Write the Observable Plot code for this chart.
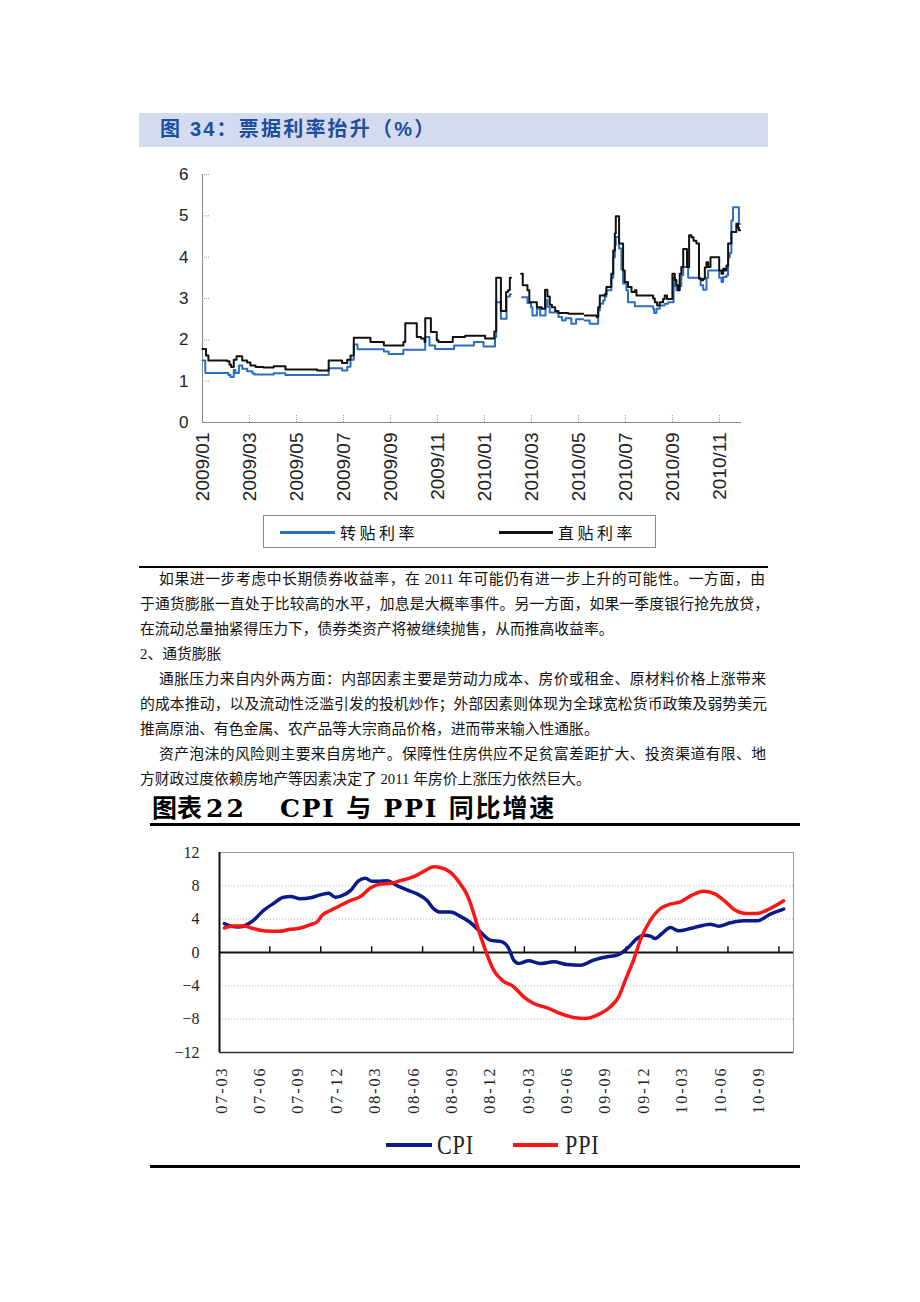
<!DOCTYPE html>
<html><head><meta charset="utf-8">
<script src="https://cdn.jsdelivr.net/npm/d3@7"></script>
<script src="https://cdn.jsdelivr.net/npm/@observablehq/plot@0.6"></script>
<style>
html,body{margin:0;padding:0;background:#fff;}
body{width:920px;height:1302px;position:relative;overflow:hidden;font-family:"Liberation Serif","Noto Sans CJK SC",serif;color:#111;}
.abs{position:absolute;}
#band1{left:139px;top:113px;width:629px;height:34px;background:#d4dbee;}
#title1{left:160px;top:113px;height:34px;line-height:34px;font:bold 20px "Liberation Sans","Noto Sans CJK SC",sans-serif;color:#1c4f9d;letter-spacing:2.2px;white-space:nowrap;}
#legend1{left:263px;top:515px;width:393px;height:33px;border:1px solid #8a8a8a;box-sizing:border-box;background:#fff;}
.lg1line{position:absolute;height:3px;top:15px;}
.lg1txt{position:absolute;top:4px;font:16px "Noto Sans CJK SC",sans-serif;letter-spacing:3.5px;white-space:nowrap;line-height:24px;}
.hr{position:absolute;background:#000;}
.p{position:absolute;font-size:14.8px;line-height:25px;height:25px;white-space:normal;font-family:"Liberation Serif","Noto Sans CJK SC",serif;color:#111;}
.full{text-align:justify;text-align-last:justify;}
.nw{white-space:nowrap;}
#title2a,#title2b{position:absolute;top:794px;height:30px;line-height:30px;font-weight:bold;font-size:25px;white-space:nowrap;font-family:"DejaVu Serif","Noto Sans CJK SC",serif;color:#000;}
#title2b{letter-spacing:1.8px;}
.lg2line{position:absolute;height:4px;top:1143px;}
.lg2txt{position:absolute;top:1130px;font-family:"Liberation Serif",serif;font-size:27px;line-height:30px;transform:scaleX(0.82);transform-origin:left center;letter-spacing:1px;color:#222;}
</style>
</head>
<body>
<div id="band1" class="abs"></div>
<div id="title1" class="abs">图 34：票据利率抬升（%）</div>
<div id="chart1" class="abs" style="left:130px;top:150px;"></div>
<div id="legend1" class="abs">
  <div class="lg1line" style="left:16px;width:55px;background:#2d6ebf;"></div>
  <div class="lg1txt" style="left:76px;">转贴利率</div>
  <div class="lg1line" style="left:235px;width:54px;background:#111;"></div>
  <div class="lg1txt" style="left:294px;">直贴利率</div>
</div>
<div class="hr" style="left:139px;top:566px;width:629px;height:2px;"></div>

<div class="p full" style="top:567px;left:159px;width:606px;">如果进一步考虑中长期债券收益率，在 2011 年可能仍有进一步上升的可能性。一方面，由</div>
<div class="p full" style="top:592px;left:140px;width:629px;">于通货膨胀一直处于比较高的水平，加息是大概率事件。另一方面，如果一季度银行抢先放贷，</div>
<div class="p nw" style="top:617px;left:140px;">在流动总量抽紧得压力下，债券类资产将被继续抛售，从而推高收益率。</div>
<div class="p nw" style="top:642px;left:140px;">2、通货膨胀</div>
<div class="p full" style="top:667px;left:159px;width:607px;">通胀压力来自内外两方面：内部因素主要是劳动力成本、房价或租金、原材料价格上涨带来</div>
<div class="p full" style="top:692px;left:140px;width:627px;">的成本推动，以及流动性泛滥引发的投机炒作；外部因素则体现为全球宽松货币政策及弱势美元</div>
<div class="p nw" style="top:717px;left:140px;">推高原油、有色金属、农产品等大宗商品价格，进而带来输入性通胀。</div>
<div class="p full" style="top:742px;left:159px;width:607px;">资产泡沫的风险则主要来自房地产。保障性住房供应不足贫富差距扩大、投资渠道有限、地</div>
<div class="p nw" style="top:767px;left:140px;">方财政过度依赖房地产等因素决定了 2011 年房价上涨压力依然巨大。</div>

<div id="title2a" style="left:152px;">图表<span style="margin-left:4px;letter-spacing:3px;">22</span></div>
<div id="title2b" style="left:280px;">CPI 与 PPI 同比增速</div>
<div class="hr" style="left:150px;top:823px;width:650px;height:3px;"></div>
<div id="chart2" class="abs" style="left:150px;top:840px;"></div>
<div class="lg2line" style="left:386px;width:46px;background:#0b1a8a;"></div>
<div class="lg2txt" style="left:437px;">CPI</div>
<div class="lg2line" style="left:513px;width:45px;background:#ff1414;"></div>
<div class="lg2txt" style="left:565px;">PPI</div>
<div class="hr" style="left:150px;top:1165px;width:650px;height:3px;"></div>

<script>
// ---------- Chart 1: 票据利率 (x = months since 2009/01) ----------
const xTicks1 = [0, 2, 4, 6, 8, 10, 12, 14, 16, 18, 20, 22];
const xLabels1 = ["2009/01","2009/03","2009/05","2009/07","2009/09","2009/11","2010/01","2010/03","2010/05","2010/07","2010/09","2010/11"];
const yTicks1 = [0, 1, 2, 3, 4, 5, 6];

// 转贴利率 [month offset, rate]
const zhuanTie = [[0,1.50],[0.12,1.20],[1.1,1.15],[1.19,1.10],[1.33,1.27],[1.4,1.20],[1.55,1.38],[1.69,1.30],[1.9,1.24],[2.12,1.19],[2.2,1.16],[3.03,1.19],[3.53,1.15],[5.37,1.31],[5.94,1.26],[6.16,1.35],[6.3,1.52],[6.44,1.89],[6.6,1.77],[7.72,1.72],[7.92,1.66],[8.55,1.76],[9.48,2.07],[9.66,1.86],[9.9,1.78],[10.71,1.86],[11.55,1.95],[11.96,1.84],[12.45,2.07],[12.5,2.91],[12.7,2.51],[12.94,3.05],[13.08,3.10],[13.13,3.10],[13.14,null],[13.6,3.03],[13.83,2.89],[13.98,2.79],[14.04,2.59],[14.23,2.75],[14.37,2.59],[14.6,2.97],[14.68,2.80],[14.78,2.66],[15.15,2.55],[15.3,2.47],[15.45,2.52],[15.7,2.39],[15.9,2.50],[16.2,2.50],[16.22,null],[16.27,2.47],[16.48,2.39],[16.84,2.71],[16.91,2.87],[17.05,2.95],[17.12,3.05],[17.19,3.20],[17.4,3.50],[17.48,4.00],[17.55,4.29],[17.59,4.49],[17.73,4.21],[17.83,3.70],[17.9,3.36],[18.04,3.20],[18.11,2.91],[18.4,2.81],[19.18,2.75],[19.22,2.65],[19.32,2.75],[19.46,2.83],[19.67,2.87],[19.82,2.91],[20.05,3.50],[20.1,3.30],[20.17,3.20],[20.28,3.30],[20.38,3.56],[20.46,3.76],[20.67,3.50],[21.2,3.32],[21.31,3.21],[21.45,3.50],[21.52,3.68],[21.99,3.50],[22.09,3.40],[22.16,3.52],[22.3,3.56],[22.37,4.00],[22.44,4.10],[22.51,4.89],[22.58,5.21],[22.83,4.80],[22.88,4.80]];

// 直贴利率 [month offset, rate]
const zhiTie = [[0,1.78],[0.15,1.62],[0.25,1.50],[1.05,1.48],[1.15,1.40],[1.22,1.34],[1.33,1.52],[1.45,1.60],[1.69,1.50],[1.9,1.45],[2.04,1.38],[2.26,1.34],[2.6,1.33],[3.03,1.36],[3.53,1.28],[4.88,1.26],[5.37,1.50],[5.94,1.44],[6.16,1.52],[6.3,1.62],[6.44,2.05],[7.15,1.95],[7.72,1.86],[8.55,1.95],[8.63,2.40],[9.12,2.07],[9.3,2.03],[9.45,1.95],[9.48,2.52],[9.72,2.19],[9.97,1.99],[10.04,1.95],[10.65,2.07],[11.18,2.10],[12.03,2.03],[12.42,2.20],[12.5,3.50],[12.7,2.70],[12.92,3.16],[13.0,3.20],[13.08,3.50],[13.13,3.50],[13.14,null],[13.56,3.60],[13.63,3.32],[13.83,3.20],[13.91,2.91],[14.23,2.79],[14.44,2.75],[14.58,3.21],[14.68,3.05],[14.78,2.85],[14.87,2.79],[15.01,2.70],[15.15,2.65],[15.57,2.63],[16.2,2.63],[16.22,null],[16.27,2.59],[16.77,2.55],[16.84,2.79],[16.91,3.07],[17.12,3.10],[17.19,3.28],[17.4,3.60],[17.48,4.16],[17.55,4.57],[17.59,4.99],[17.73,4.33],[17.9,3.68],[17.97,3.40],[18.11,3.28],[18.26,3.16],[18.4,3.20],[18.47,3.07],[19.18,3.00],[19.25,2.91],[19.35,2.83],[19.46,2.91],[19.6,2.99],[19.67,3.07],[19.77,2.99],[20.0,3.60],[20.1,3.45],[20.17,3.32],[20.24,3.20],[20.31,3.60],[20.38,3.76],[20.46,4.20],[20.62,3.76],[20.71,4.53],[20.81,4.48],[20.9,4.40],[21.02,4.33],[21.13,3.48],[21.23,3.44],[21.31,3.48],[21.38,3.75],[21.45,3.88],[21.52,3.76],[21.62,4.00],[21.99,3.68],[22.09,3.60],[22.16,3.72],[22.23,3.68],[22.3,3.80],[22.37,4.33],[22.51,4.61],[22.72,4.81],[22.79,4.72],[22.83,4.65],[22.88,4.65]];

const xDomain1 = [0, 22.94];

const c1 = Plot.plot({
  width: 631, height: 362,
  marginLeft: 72, marginRight: 20, marginTop: 24, marginBottom: 90,
  style: {fontFamily: "'Liberation Sans', Arial, sans-serif", background: "transparent", overflow: "visible", color: "#222"},
  x: {type: "linear", domain: xDomain1},
  y: {domain: [0, 6]},
  marks: [
    Plot.axisY({ticks: yTicks1, tickSize: 0, tickPadding: 14, fontSize: 17, label: null, fill: "#222", tickFormat: d => String(d)}),
    Plot.axisY({ticks: yTicks1.slice(1), tickSize: -8, tickFormat: () => "", label: null, stroke: "#999", strokeDasharray: "1,1"}),
    Plot.axisX({ticks: xTicks1, tickSize: -8, tickFormat: () => "", label: null, stroke: "#999", strokeDasharray: "1,1"}),
    Plot.axisX({ticks: xTicks1, tickSize: 0, tickPadding: 10, tickRotate: -90, fontSize: 19, label: null, fill: "#222",
      tickFormat: d => xLabels1[xTicks1.indexOf(d)]}),
    Plot.ruleY([0], {stroke: "#888"}),
    Plot.ruleX([xDomain1[0]], {stroke: "#888"}),
    Plot.line(zhuanTie, {x: d => d[0], y: d => d[1], curve: "step-after", stroke: "#2d6ebf", strokeWidth: 2}),
    Plot.line(zhiTie, {x: d => d[0], y: d => d[1], curve: "step-after", stroke: "#111", strokeWidth: 2})
  ]
});
document.getElementById("chart1").appendChild(c1);

// ---------- Chart 2: CPI 与 PPI 同比增速 (x = months since 2007-03) ----------
const xTicks2 = [0, 3, 6, 9, 12, 15, 18, 21, 24, 27, 30, 33, 36, 39, 42];
const xLabels2 = ["07-03","07-06","07-09","07-12","08-03","08-06","08-09","08-12","09-03","09-06","09-09","09-12","10-03","10-06","10-09"];
const yTicks2 = [-12, -8, -4, 0, 4, 8, 12];
const gridY2 = [-8, -4, 4, 8];
const zeroTicks2 = [3.78, 7.76, 11.74, 15.72, 19.7, 23.67, 27.65, 31.63, 35.6, 39.58, 43.56];
const xDomain2 = [-0.15, 44.7];

const cpi = [[0.23,3.46],[0.7,3.18],[1.35,3.06],[2.0,3.34],[2.5,3.85],[3.3,5.05],[4.1,5.92],[4.87,6.63],[5.4,6.71],[6.17,6.44],[6.95,6.56],[7.73,6.91],[8.38,7.11],[8.9,6.63],[9.43,6.83],[10.08,7.43],[10.73,8.62],[11.25,8.9],[11.77,8.54],[12.29,8.54],[12.94,8.62],[13.72,8.03],[14.5,7.51],[15.29,7.03],[16.07,6.24],[16.59,5.24],[17.1,4.85],[17.9,4.85],[18.67,4.33],[19.45,3.6],[20.23,2.48],[21.0,1.48],[21.93,1.28],[22.45,0.48],[22.84,-0.92],[23.23,-1.32],[24.0,-1.0],[24.9,-1.32],[25.96,-1.12],[27.0,-1.44],[28.05,-1.52],[29.09,-0.92],[30.13,-0.52],[30.92,-0.32],[31.7,0.48],[32.48,1.68],[33.0,2.08],[33.52,1.96],[33.9,1.68],[34.43,2.28],[35.08,3.0],[35.73,2.6],[36.64,2.88],[37.68,3.28],[38.2,3.4],[38.85,3.16],[39.77,3.56],[40.8,3.8],[41.85,3.8],[42.89,4.6],[43.93,5.2]];

const ppi = [[0.23,2.94],[0.96,3.18],[1.74,3.18],[2.52,2.86],[3.44,2.58],[4.48,2.54],[5.39,2.78],[6.17,2.94],[6.95,3.34],[7.47,3.66],[7.86,4.45],[8.52,5.05],[9.3,5.64],[10.08,6.24],[10.86,6.71],[11.64,7.75],[12.42,8.22],[13.2,8.3],[13.98,8.62],[15.02,9.1],[15.8,9.73],[16.59,10.29],[17.1,10.21],[17.9,9.61],[18.67,8.22],[19.2,6.9],[19.5,5.7],[19.75,4.5],[19.97,3.3],[20.63,0.28],[21.27,-2.12],[21.93,-3.32],[22.84,-4.12],[23.62,-5.32],[24.4,-6.12],[25.45,-6.64],[26.48,-7.32],[27.52,-7.8],[28.44,-7.92],[29.35,-7.52],[30.39,-6.52],[31.04,-5.32],[31.56,-3.32],[32.2,-0.92],[32.73,1.48],[33.52,3.88],[34.3,5.28],[35.08,5.8],[35.86,6.08],[36.77,6.88],[37.68,7.36],[38.59,7.0],[39.24,6.28],[40.03,5.2],[41.07,4.68],[41.85,4.68],[42.89,5.28],[43.93,6.2]];

const c2 = Plot.plot({
  width: 653, height: 292,
  marginLeft: 69, marginRight: 10, marginTop: 12, marginBottom: 80,
  style: {fontFamily: "'Liberation Serif', serif", background: "transparent", overflow: "visible", color: "#222"},
  x: {type: "linear", domain: xDomain2},
  y: {domain: [-12, 12]},
  marks: [
    Plot.ruleY(gridY2, {stroke: "#b8b8b8", strokeDasharray: "1,2"}),
    Plot.frame({stroke: "#9a9a9a"}),
    Plot.ruleY([-12], {stroke: "#333", strokeWidth: 1.5}),
    Plot.ruleX([xDomain2[0]], {stroke: "#111", strokeWidth: 2}),
    Plot.ruleY([0], {stroke: "#111", strokeWidth: 2}),
    Plot.ruleX(zeroTicks2, {y1: 0, y2: 0.7, stroke: "#111", strokeWidth: 1.5}),
    Plot.axisY({ticks: yTicks2, tickSize: 0, tickPadding: 20, fontSize: 16, label: null, fill: "#222"}),
    Plot.axisX({ticks: xTicks2, tickSize: 0, tickPadding: 14, tickRotate: -90, fontSize: 16, label: null, fill: "#222",
      tickFormat: d => xLabels2[xTicks2.indexOf(d)]}),
    Plot.line(cpi, {x: d => d[0], y: d => d[1], curve: "monotone-x", stroke: "#0b1a8a", strokeWidth: 3.5}),
    Plot.line(ppi, {x: d => d[0], y: d => d[1], curve: "monotone-x", stroke: "#ff1414", strokeWidth: 3.5})
  ]
});
document.getElementById("chart2").appendChild(c2);
d3.select(c2).selectAll("text").filter(function(){ return /\d\d-\d\d/.test(this.textContent); }).style("letter-spacing", "2px");
</script>
</body></html>
